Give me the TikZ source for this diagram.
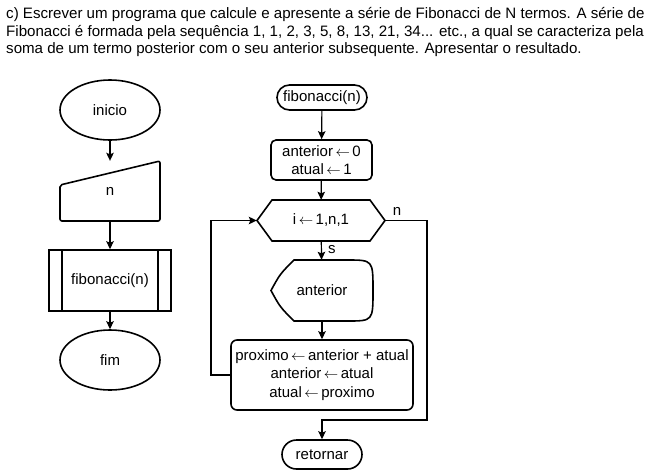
\documentclass[tikz,border=0pt]{standalone}
\usepackage{fontspec}
\setmainfont{Liberation Sans}
\usetikzlibrary{arrows.meta,shapes.geometric}
\newcommand{\assign}{\,$\leftarrow$\,}
\begin{document}
\begin{tikzpicture}[x=1pt,y=-1pt,
  shapeline/.style={line width=1.6pt},
  txt/.style={inner sep=0pt,align=center,font=\fontsize{15}{18.5}\selectfont},
  blk/.style={txt,rectangle,draw=none},
  rbox/.style={txt,rectangle,draw,shapeline},
  oval/.style={txt,ellipse,draw,shapeline},
  arr/.style={line width=1.2pt,-{Stealth[length=8pt,width=7.5pt,inset=1.5pt]}},
  lbl/.style={inner sep=0pt,font=\fontsize{15}{17}\selectfont},
  title/.style={inner sep=0pt,anchor=west,font=\fontsize{15.1}{17}\selectfont}]
\useasboundingbox[fill=white] (0,0) rectangle (651,472);

% statement of the exercise
\node[title] (t1) at (6,15) {c) Escrever um programa que calcule e apresente a série de Fibonacci de N termos. A série de};
\node[title] (t2) at (6,33) {Fibonacci é formada pela sequência 1, 1, 2, 3, 5, 8, 13, 21, 34... etc., a qual se caracteriza pela};
\node[title] (t3) at (6,50) {soma de um termo posterior com o seu anterior subsequente. Apresentar o resultado.};

% main program
\node[oval,minimum width=100pt,minimum height=60pt] (inicio) at (110,110) {inicio};
\node[blk,minimum width=100pt,minimum height=60pt] (nin) at (110,191) {n};
\draw[shapeline,rounded corners=2pt] (60,221) -- (60,185) -- (160,161) -- (160,221) -- cycle;
\node[rbox,minimum width=122pt,minimum height=61pt] (fib) at (110,280.5) {fibonacci(n)};
\draw[shapeline] (62,250) -- (62,311) (158,250) -- (158,311);
\node[oval,minimum width=100pt,minimum height=60pt] (fim) at (110,360) {fim};

\draw[arr] (inicio) -- (nin);
\draw[arr] (nin) -- (fib);
\draw[arr] (fib) -- (fim);

% procedure fibonacci(n)
\node[rbox,rounded corners=12.5pt,minimum width=90pt,minimum height=25pt] (fibn) at (322,97.5) {fibonacci(n)};
\node[rbox,rounded corners=5pt,minimum width=101pt,minimum height=40pt] (init) at (321.5,160) {anterior\assign 0\\atual\assign 1};
\node[blk,minimum width=128pt,minimum height=41pt] (loop) at (321,220.5) {i\assign 1,n,1};
\draw[shapeline] (257,220.5) -- (272,200) -- (370,200) -- (385,220.5) -- (370,241) -- (272,241) -- cycle;
\node[blk,minimum width=102pt,minimum height=61pt] (disp) at (322,290.5) {anterior};
\draw[shapeline] (271,290.5) .. controls (280,274) .. (294,260) -- (347,260)
  .. controls (373,260) .. (373,290.5) .. controls (373,321) .. (347,321)
  -- (294,321) .. controls (280,307) .. cycle;
\node[rbox,rounded corners=6pt,minimum width=182pt,minimum height=70pt] (calc) at (322,375)
  {proximo\assign anterior + atual\\anterior\assign atual\\atual\assign proximo};
\node[rbox,rounded corners=14.5pt,minimum width=80pt,minimum height=29pt] (ret) at (322,454.5) {retornar};

\coordinate (back) at (211,375);
\coordinate (out) at (427,420);

\draw[arr] (fibn) -- (init);
\draw[arr] (init) -- (loop);
\draw[arr] (loop) -- node[lbl,pos=0.45,right=6pt] (s) {s} (disp);
\draw[arr] (disp) -- (calc);
\draw[arr] (calc.west) -- (calc.west -| back) |- (loop.west);
\draw[arr] (loop.east) -| (out) -| (ret.north);
\node[lbl] (nlbl) at (397,211) {n};
\end{tikzpicture}
\end{document}
